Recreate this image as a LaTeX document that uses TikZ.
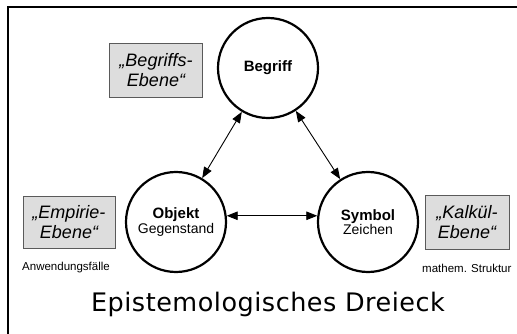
\documentclass[tikz,border=0pt]{standalone}
\usepackage{fontspec}
\setmainfont{Liberation Sans}
\newfontfamily\titlefont{DejaVu Sans}
\usetikzlibrary{arrows.meta}
\definecolor{ebenegray}{RGB}{221, 221, 221}
\definecolor{ebeneframe}{RGB}{90, 90, 90}

\tikzset{
  pol/.style={draw, circle, line width=2.2pt, minimum size=100pt, inner sep=0pt, align=center},
  ebene/.style={draw=ebeneframe, fill=ebenegray, line width=0.8pt, inner sep=0pt, align=center,
    font=\itshape\fontsize{18}{20}\selectfont},
  bez/.style={line width=0.9pt, {Triangle[length=11pt,width=8.5pt]}-{Triangle[length=11pt,width=8.5pt]}},
  anm/.style={font=\fontsize{11.5}{13}\selectfont}
}

\begin{document}
\begin{tikzpicture}[x=1pt, y=-1pt]
\useasboundingbox (0,0) rectangle (517,334);
% Rahmen
\draw[line width=2pt] (8,334) -- (8,7) -- (517,7);

% die drei Pole
\node[pol] (begriff) at (268,68) {\fontsize{15}{18}\selectfont\textbf{Begriff}};
\node[pol] (objekt) at (176,222) {\fontsize{15}{19}\selectfont\textbf{Objekt}\\ \fontsize{14}{19}\selectfont Gegenstand};
\node[pol] (symbol) at (368,222) {\fontsize{15}{19}\selectfont\textbf{Symbol}\\ \fontsize{14}{19}\selectfont Zeichen};

\draw[bez] (begriff) -- (objekt);
\draw[bez] (begriff) -- (symbol);
\draw[bez] (objekt.7) -- (symbol.173);

% Ebenen
\node[ebene, minimum width=93pt, minimum height=54pt] (begriffsebene) at (156,70) {„Begriffs-\\Ebene“};
\node[ebene, minimum width=92pt, minimum height=52pt] (empirieebene) at (69,222) {„Empirie-\\Ebene“};
\node[ebene, minimum width=84pt, minimum height=54pt] (kalkuelebene) at (467,222) {„Kalkül-\\Ebene“};

\node[anm] (anwendung) at (66,268) {Anwendungsfälle};
\node[anm, anchor=east] (struktur) at (515,268) {mathem. Struktur};

\node[font=\titlefont\fontsize{25.5}{30}\selectfont\addfontfeatures{LetterSpace=2}] (titel) at (268,304) {Epistemologisches Dreieck};
\end{tikzpicture}
\end{document}
